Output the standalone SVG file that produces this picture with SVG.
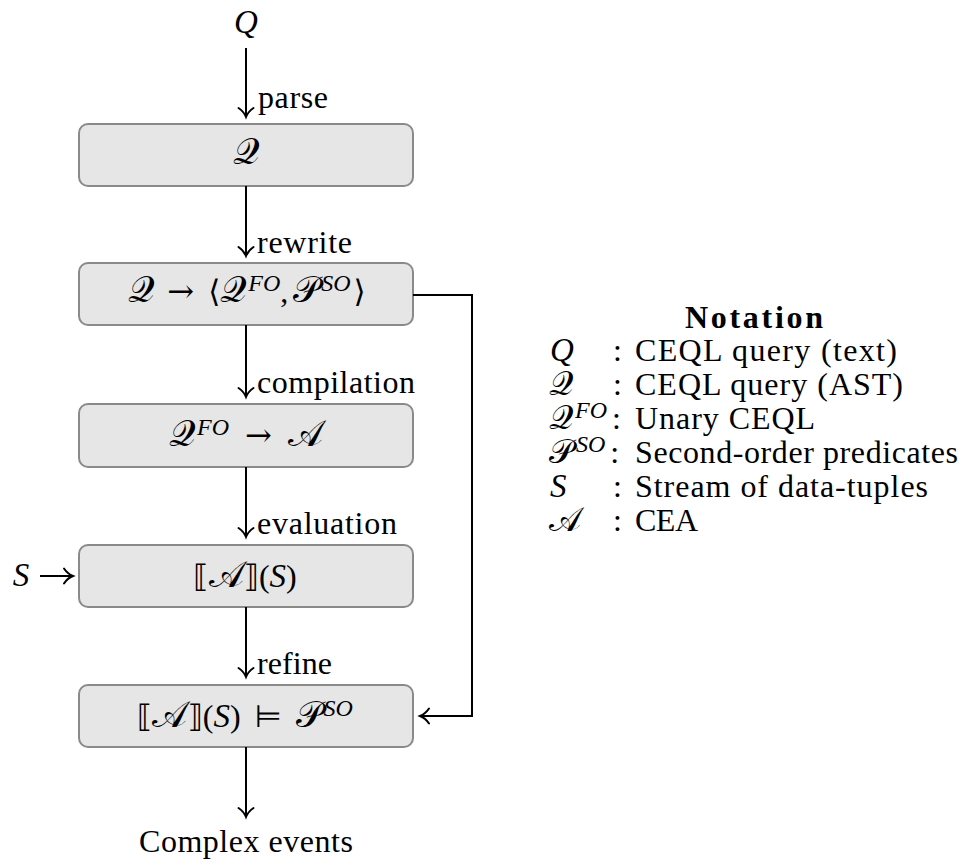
<svg xmlns="http://www.w3.org/2000/svg" width="962" height="866" viewBox="0 0 962 866">
  <style>
    .t{font-family:"Liberation Serif",serif;font-size:32px;fill:#000}
    .b{font-family:"Liberation Serif",serif;font-size:32px;font-weight:bold;fill:#000}
    .it{font-family:"Liberation Serif",serif;font-style:italic;font-size:33px;fill:#000}
    .math{font-family:"Liberation Serif",serif;font-size:32px;fill:#000}
    .cal{font-family:"DejaVu Serif","DejaVu Sans","Noto Sans",serif;font-size:37px;font-style:normal}
    .key .cal{font-size:34px}
    .sup{font-family:"Liberation Serif",serif;font-style:italic;font-size:24px}
    .var{font-style:italic;font-size:33px}
    .sym{font-family:"DejaVu Sans",sans-serif;font-size:31px}
    .arr{font-family:"DejaVu Serif",serif;font-size:32px}
    .box{fill:#e6e6e6;stroke:#8a8a8a;stroke-width:2}
    .wire{fill:none;stroke:#000;stroke-width:2}
  </style>
  <defs>
    <marker id="tip" markerUnits="userSpaceOnUse" markerWidth="20" markerHeight="20" viewBox="-11 -10 13 20" refX="0" refY="0" orient="auto">
      <path d="M-9,-7.5 C-6,-3 -2,-0.8 0,0 C-2,0.8 -6,3 -9,7.5" fill="none" stroke="#000" stroke-width="2" stroke-linecap="round"/>
    </marker>
  </defs>

  <!-- input query -->
  <g id="input">
    <text class="it" x="246" y="33" text-anchor="middle">Q</text>
  </g>

  <!-- pipeline stages -->
  <g id="stage-parse">
    <rect class="box" x="79" y="124" width="334" height="62" rx="9"/>
    <text class="math" x="246" y="164" text-anchor="middle"><tspan class="cal">𝒬</tspan></text>
  </g>
  <g id="stage-rewrite">
    <rect class="box" x="79" y="263" width="334" height="62" rx="9"/>
    <text class="math" x="247" y="302" text-anchor="middle"><tspan class="cal">𝒬</tspan><tspan class="arr" dx="12">→</tspan><tspan class="sym" dx="14">⟨</tspan><tspan class="cal">𝒬</tspan><tspan class="sup" dx="1" dy="-11">FO</tspan><tspan dy="11">,</tspan><tspan class="cal" dx="5">𝒫</tspan><tspan class="sup" dx="1" dy="-11">SO</tspan><tspan class="sym" dx="3" dy="11">⟩</tspan></text>
  </g>
  <g id="stage-compile">
    <rect class="box" x="79" y="404" width="334" height="63" rx="9"/>
    <text class="math" x="246" y="446" text-anchor="middle"><tspan class="cal">𝒬</tspan><tspan class="sup" dx="1" dy="-11">FO</tspan><tspan class="arr" dx="16" dy="11">→</tspan><tspan class="cal" dx="16">𝒜</tspan></text>
  </g>
  <g id="stage-evaluate">
    <rect class="box" x="79" y="545" width="334" height="62" rx="9"/>
    <text class="math" x="245" y="587" text-anchor="middle"><tspan class="sym">⟦</tspan><tspan class="cal">𝒜</tspan><tspan class="sym">⟧</tspan>(<tspan class="var">S</tspan>)</text>
  </g>
  <g id="stage-refine">
    <rect class="box" x="79" y="685" width="334" height="62" rx="9"/>
    <text class="math" x="245" y="727" text-anchor="middle"><tspan class="sym">⟦</tspan><tspan class="cal">𝒜</tspan><tspan class="sym">⟧</tspan>(<tspan class="var">S</tspan>)<tspan class="sym" dx="14">⊨</tspan><tspan class="cal" dx="14">𝒫</tspan><tspan class="sup" dx="1" dy="-11">SO</tspan></text>
  </g>

  <!-- stream input and output -->
  <g id="stream">
    <text class="it" x="21" y="586" text-anchor="middle">S</text>
  </g>
  <g id="output">
    <text class="t" x="246" y="852" text-anchor="middle" textLength="214" lengthAdjust="spacing">Complex events</text>
  </g>

  <!-- connectors -->
  <g id="connectors">
    <path class="wire" d="M246,48 V117" marker-end="url(#tip)"/>
    <path class="wire" d="M246,186 V256" marker-end="url(#tip)"/>
    <path class="wire" d="M246,325 V397" marker-end="url(#tip)"/>
    <path class="wire" d="M246,467 V537" marker-end="url(#tip)"/>
    <path class="wire" d="M246,607 V677" marker-end="url(#tip)"/>
    <path class="wire" d="M246,747 V817" marker-end="url(#tip)"/>
    <path class="wire" d="M413,295 H472 V716 H420" marker-end="url(#tip)"/>
    <path class="wire" d="M40,576 H73" marker-end="url(#tip)"/>
    <text class="t" x="258" y="108" textLength="70" lengthAdjust="spacing">parse</text>
    <text class="t" x="257" y="253" textLength="95" lengthAdjust="spacing">rewrite</text>
    <text class="t" x="257" y="393" textLength="158" lengthAdjust="spacing">compilation</text>
    <text class="t" x="257" y="534" textLength="140" lengthAdjust="spacing">evaluation</text>
    <text class="t" x="257" y="674" textLength="75" lengthAdjust="spacing">refine</text>
  </g>

  <!-- notation legend -->
  <g id="legend" class="key">
    <text class="b" x="754" y="328" text-anchor="middle" textLength="138" lengthAdjust="spacing">Notation</text>

    <text class="it" x="550" y="361">Q</text>
    <text class="t" x="613" y="361">:</text>
    <text class="t" x="635" y="361" textLength="262" lengthAdjust="spacing">CEQL query (text)</text>

    <text class="math" x="549" y="395"><tspan class="cal">𝒬</tspan></text>
    <text class="t" x="613" y="395">:</text>
    <text class="t" x="635" y="395" textLength="268" lengthAdjust="spacing">CEQL query (AST)</text>

    <text class="math" x="549" y="429"><tspan class="cal">𝒬</tspan><tspan class="sup" dx="2" dy="-11">FO</tspan><tspan dx="5" dy="11">:</tspan></text>
    <text class="t" x="635" y="429" textLength="180" lengthAdjust="spacing">Unary CEQL</text>

    <text class="math" x="549" y="463"><tspan class="cal">𝒫</tspan><tspan class="sup" dx="2" dy="-11">SO</tspan><tspan dx="5" dy="11">:</tspan></text>
    <text class="t" x="635" y="463" textLength="323" lengthAdjust="spacing">Second-order predicates</text>

    <text class="it" x="550" y="497">S</text>
    <text class="t" x="613" y="497">:</text>
    <text class="t" x="635" y="497" textLength="293" lengthAdjust="spacing">Stream of data-tuples</text>

    <text class="math" x="549" y="531"><tspan class="cal">𝒜</tspan></text>
    <text class="t" x="613" y="531">:</text>
    <text class="t" x="635" y="531" textLength="63" lengthAdjust="spacing">CEA</text>
  </g>
</svg>
